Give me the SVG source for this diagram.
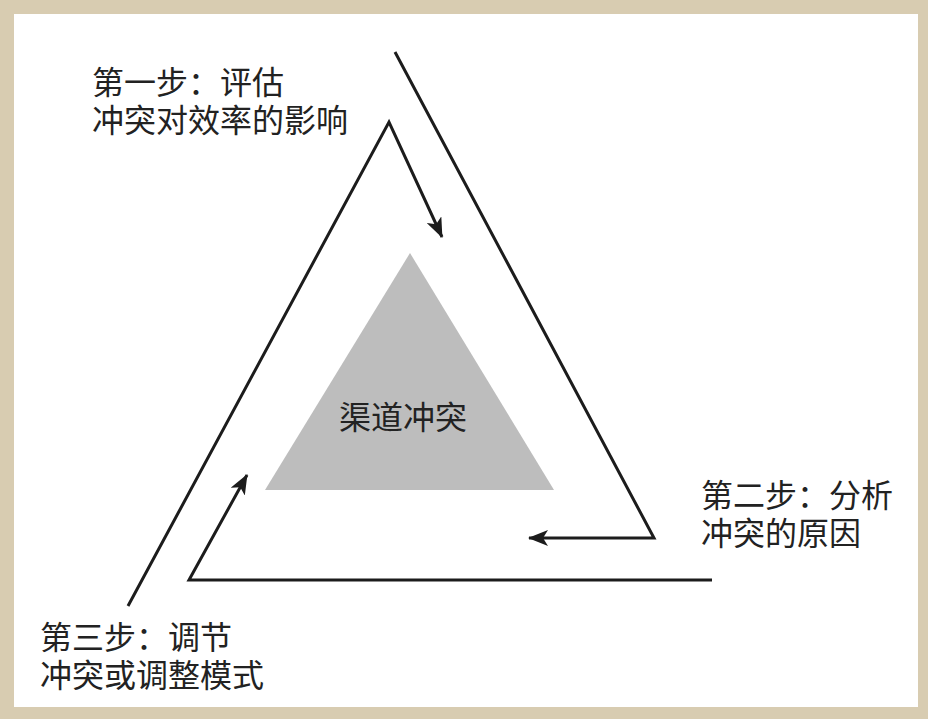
<svg xmlns="http://www.w3.org/2000/svg" width="928" height="719" viewBox="0 0 928 719">
<defs>
<style>
.t{font-family:"Liberation Serif","Noto Sans CJK SC","Noto Sans CJK JP",serif;font-size:32px;fill:#222;}
.c{fill:none;stroke:#1c1c1c;stroke-width:3;stroke-linejoin:miter;}
</style>
<marker id="ah" viewBox="0 0 20 16" refX="19" refY="8" markerWidth="20" markerHeight="16" markerUnits="userSpaceOnUse" orient="auto">
<path d="M0,0 L20,8 L0,16 L5,8 Z" fill="#1c1c1c"/>
</marker>
</defs>
<rect x="0" y="0" width="928" height="719" fill="#d8ccb1"/>
<rect x="14" y="14" width="904" height="693" fill="#ffffff"/>
<g id="center">
<polygon points="410,253 554,490 265,490" fill="#bdbdbd"/>
<text class="t" x="403" y="429" text-anchor="middle">渠道冲突</text>
</g>
<g id="connectors">
<polyline class="c" points="128,606 389,122 442,237" marker-end="url(#ah)"/>
<polyline class="c" points="395,52 654,538 529,538" marker-end="url(#ah)"/>
<polyline class="c" points="712,580 189,580 247,475" marker-end="url(#ah)"/>
</g>
<g id="step1">
<text class="t" x="92" y="94">第一步：评估<tspan x="92" dy="38">冲突对效率的影响</tspan></text>
</g>
<g id="step2">
<text class="t" x="701" y="507">第二步：分析<tspan x="701" dy="38">冲突的原因</tspan></text>
</g>
<g id="step3">
<text class="t" x="40" y="649">第三步：调节<tspan x="40" dy="38">冲突或调整模式</tspan></text>
</g>
</svg>
